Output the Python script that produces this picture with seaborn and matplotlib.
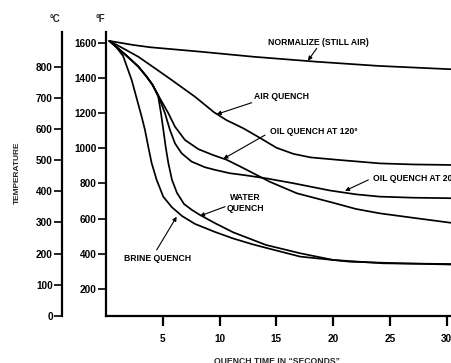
import matplotlib
matplotlib.use("Agg")
import matplotlib.pyplot as plt
import seaborn as sns
import pandas as pd

# ---- data (time in seconds, temperature in °F) ----
normalize_t = [0.3, 2.4, 3.9, 8.3, 13.0, 18.5, 24.0, 30.4]
normalize_f = [1610, 1587, 1574, 1549, 1520, 1492, 1468, 1449]

air_t = [0.3, 1.5, 2.85, 4.3, 5.78, 7.83, 9.5, 10.6, 12.1, 13.6, 15.0, 16.5, 18.0, 20.6, 24.1, 27.0, 30.4]
air_f = [1610, 1568, 1520, 1455, 1388, 1293, 1205, 1160, 1113, 1057, 1003, 968, 948, 933, 914, 908, 905]

oil120_t = [0.3, 1.2, 2.0, 2.85, 3.6, 4.1, 4.6, 5.49, 6.07, 6.95, 8.13, 9.4, 10.6, 11.7, 12.7, 14.4, 16.8,
            20.0, 22.0, 24.1, 27.0, 30.4]
oil120_f = [1610, 1560, 1515, 1464, 1405, 1360, 1300, 1199, 1123, 1047, 995, 962, 935, 900, 867, 810, 744,
            690, 655, 630, 605, 576]

oil200_t = [0.3, 1.2, 2.0, 2.85, 3.6, 4.1, 4.6, 5.19, 5.63, 6.07, 6.66, 7.54, 8.71, 9.6, 10.9, 12.1, 14.1,
            16.5, 19.7, 22.0, 24.1, 27.0, 30.4]
oil200_f = [1610, 1560, 1515, 1464, 1405, 1360, 1300, 1199, 1104, 1028, 971, 924, 892, 877, 858, 848, 829,
            801, 760, 738, 725, 719, 716]

water_t = [0.3, 1.2, 2.0, 2.85, 3.6, 4.1, 4.6, 4.84, 5.05, 5.25, 5.49, 5.81, 6.25, 6.87, 7.57, 8.27, 9.6,
           11.2, 14.1, 17.1, 20.0, 24.4, 30.4]
water_f = [1610, 1560, 1515, 1464, 1405, 1360, 1293, 1199, 1104, 1009, 915, 820, 746, 683, 649, 621, 574,
           522, 450, 403, 365, 346, 342]

brine_t = [0.3, 0.9, 1.5, 2.26, 3.14, 3.43, 3.72, 4.02, 4.46, 5.04, 5.78, 6.69, 7.83, 9.6, 11.2, 12.85,
           14.2, 17.1, 21.5, 25.9, 30.4]
brine_f = [1610, 1575, 1525, 1388, 1179, 1104, 1009, 915, 820, 725, 666, 615, 570, 524, 487, 455,
           432, 384, 355, 346, 339]

f_ticks = [200, 400, 600, 800, 1000, 1200, 1400, 1600]
c_ticks = [0, 100, 200, 300, 400, 500, 600, 700, 800]
x_ticks = [5, 10, 15, 20, 25, 30]

series = {
    "NORMALIZE (STILL AIR)": (normalize_t, normalize_f),
    "AIR QUENCH": (air_t, air_f),
    "OIL QUENCH AT 120°": (oil120_t, oil120_f),
    "OIL QUENCH AT 200°": (oil200_t, oil200_f),
    "WATER QUENCH": (water_t, water_f),
    "BRINE QUENCH": (brine_t, brine_f),
}
df = pd.concat(
    [pd.DataFrame({"time": t, "temp": f, "curve": name}) for name, (t, f) in series.items()],
    ignore_index=True,
)

sns.set_style("ticks")
plt.rcParams["font.family"] = ["Liberation Sans", "DejaVu Sans"]
plt.rcParams["font.weight"] = "bold"
plt.rcParams["lines.solid_joinstyle"] = "round"

W, H = 451, 363
fig = plt.figure(figsize=(W / 100, H / 100), dpi=100)
fig.patch.set_facecolor("white")

ax = fig.add_axes([106 / W, (H - 316) / H, (W - 106) / W, (316 - 32) / H])
sns.lineplot(data=df, x="time", y="temp", units="curve", estimator=None,
             color="black", linewidth=1.25, sort=False, ax=ax, legend=False)
ax.set_xlim(0, (W - 106) / 11.36)
ax.set_ylim(46.5, 1660.8)
ax.set_xticks(x_ticks)
ax.set_yticks(f_ticks)
ax.set_xlabel("")
ax.set_ylabel("")
for s in ["top", "right"]:
    ax.spines[s].set_visible(False)
for s in ["left", "bottom"]:
    ax.spines[s].set_linewidth(1.6)
    ax.spines[s].set_color("black")
ax.tick_params(axis="x", direction="out", length=7, width=1.6, pad=6, labelsize=7.2, colors="black")
ax.tick_params(axis="y", direction="out", length=6, width=1.2, pad=0.5, labelsize=7.2, colors="black")
for lab in ax.get_xticklabels() + ax.get_yticklabels():
    lab.set_fontweight("bold")
ax.set_facecolor("none")

# Celsius axis
ax2 = fig.add_axes([62 / W, (H - 316) / H, 1 / W, (316 - 32) / H])
ax2.set_ylim(0, 911)
ax2.set_yticks(c_ticks)
ax2.set_xticks([])
for s in ["top", "right", "bottom"]:
    ax2.spines[s].set_visible(False)
ax2.spines["left"].set_linewidth(1.6)
ax2.spines["left"].set_color("black")
ax2.tick_params(axis="y", direction="out", length=6, width=1.2, pad=0.5, labelsize=7.2, colors="black")
for lab in ax2.get_yticklabels():
    lab.set_fontweight("bold")
ax2.set_facecolor("none")

# unit labels and axis titles
fig.text(55 / W, 1 - 19 / H, "°C", ha="center", va="center", fontsize=7, fontweight="bold")
fig.text(100 / W, 1 - 19 / H, "°F", ha="center", va="center", fontsize=7, fontweight="bold")
fig.text(17 / W, 1 - 173 / H, "TEMPERATURE", rotation=90, ha="center", va="center",
         fontsize=6, fontweight="bold")
fig.text(277 / W, 1 - 357 / H, "QUENCH TIME IN \u201cSECONDS\u201d", ha="center", va="top",
         fontsize=6.2, fontweight="bold")

# curve labels with arrows
arrow = dict(arrowstyle="-|>", color="black", lw=0.8, mutation_scale=6, shrinkA=0, shrinkB=0)
lab_kw = dict(fontsize=6.2, fontweight="bold", color="black")
ax.text(18.66, 1600, "NORMALIZE (STILL AIR)", ha="center", va="center", **lab_kw)
ax.annotate("", xy=(17.78, 1498), xytext=(18.55, 1568), arrowprops=arrow)
ax.text(15.47, 1293, "AIR QUENCH", ha="center", va="center", **lab_kw)
ax.annotate("", xy=(9.74, 1193), xytext=(12.83, 1259), arrowprops=arrow)
ax.text(14.45, 1098, "OIL QUENCH AT 120°", ha="left", va="center", **lab_kw)
ax.annotate("", xy=(10.33, 940), xytext=(14.0, 1075), arrowprops=arrow)
ax.text(23.53, 829, "OIL QUENCH AT 200°", ha="left", va="center", clip_on=False, **lab_kw)
ax.annotate("", xy=(21.04, 758), xytext=(23.09, 820), arrowprops=arrow)
ax.text(12.3, 687, "WATER\nQUENCH", ha="center", va="center", linespacing=1.25, **lab_kw)
ax.annotate("", xy=(8.27, 615), xytext=(10.48, 668), arrowprops=arrow)
ax.text(4.53, 374, "BRINE QUENCH", ha="center", va="center", **lab_kw)
ax.annotate("", xy=(6.22, 611), xytext=(4.46, 422), arrowprops=arrow)

fig.savefig("out.png", dpi=100)
